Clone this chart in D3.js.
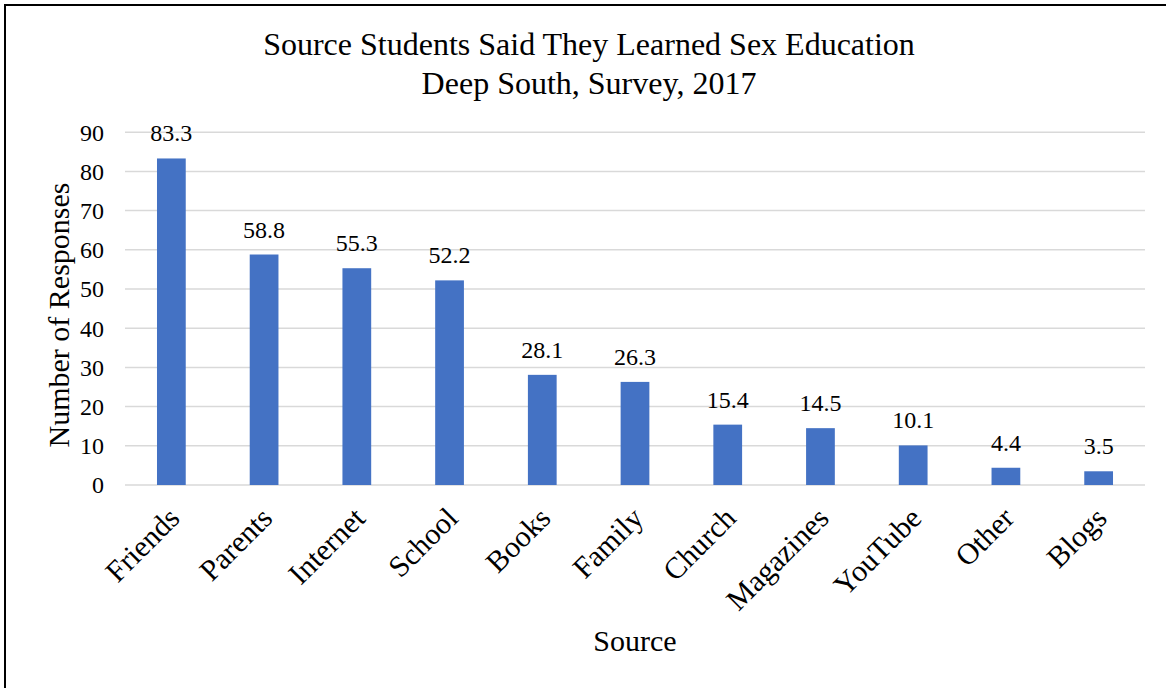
<!DOCTYPE html>
<html>
<head>
<meta charset="utf-8">
<script src="https://cdn.jsdelivr.net/npm/d3@7"></script>
<style>
  body { margin: 0; background: #fff; }
  text { font-family: "Liberation Serif", "Times New Roman", serif; fill: #000; }
</style>
</head>
<body>
<script>
// chart data
var categories = ["Friends", "Parents", "Internet", "School", "Books", "Family",
                  "Church", "Magazines", "YouTube", "Other", "Blogs"];
var responses = [83.3, 58.8, 55.3, 52.2, 28.1, 26.3, 15.4, 14.5, 10.1, 4.4, 3.5];
var yTicks = [0, 10, 20, 30, 40, 50, 60, 70, 80, 90];
var titleLines = ["Source Students Said They Learned Sex Education", "Deep South, Survey, 2017"];

var width = 1166,
    height = 688;

var svg = d3.select("body").append("svg")
    .attr("width", width)
    .attr("height", height);

// outer frame (only left and top visible in the picture)
svg.append("path")
    .attr("d", "M5,688 L5,5 L1166,5")
    .attr("fill", "none")
    .attr("stroke", "#000")
    .attr("stroke-width", 2);

var x = d3.scaleBand()
    .domain(categories)
    .range([125, 1145])
    .paddingInner(0.69)
    .paddingOuter(0.345);

var y = d3.scaleLinear()
    .domain([0, 90])
    .range([485, 132.2]);

// gridlines
svg.append("g")
    .selectAll("line")
    .data(yTicks)
    .enter().append("line")
    .attr("x1", 125)
    .attr("x2", 1145)
    .attr("y1", function(d) { return y(d); })
    .attr("y2", function(d) { return y(d); })
    .attr("stroke", "#d9d9d9")
    .attr("stroke-width", 1.5);

// y tick labels
svg.append("g")
    .selectAll("text")
    .data(yTicks)
    .enter().append("text")
    .attr("x", 104)
    .attr("y", function(d) { return y(d); })
    .attr("dy", "0.35em")
    .attr("text-anchor", "end")
    .attr("font-size", 24)
    .text(function(d) { return d; });

// bars
svg.append("g")
    .selectAll("rect")
    .data(responses)
    .enter().append("rect")
    .attr("x", function(d, i) { return x(categories[i]); })
    .attr("width", x.bandwidth())
    .attr("y", function(d) { return y(d); })
    .attr("height", function(d) { return y(0) - y(d); })
    .attr("fill", "#4472C4");

// value labels
svg.append("g")
    .selectAll("text")
    .data(responses)
    .enter().append("text")
    .attr("x", function(d, i) { return x(categories[i]) + x.bandwidth() / 2; })
    .attr("y", function(d) { return y(d) - 17; })
    .attr("text-anchor", "middle")
    .attr("font-size", 24)
    .text(function(d) { return d.toFixed(1); });

// category labels, rotated
svg.append("g")
    .selectAll("text")
    .data(categories)
    .enter().append("text")
    .attr("text-anchor", "end")
    .attr("font-size", 30)
    .attr("transform", function(d) {
        var cx = x(d) + x.bandwidth() / 2 + 10;
        return "translate(" + cx + ",520) rotate(-45)";
    })
    .text(function(d) { return d; });

// title
svg.append("g")
    .selectAll("text")
    .data(titleLines)
    .enter().append("text")
    .attr("x", 589)
    .attr("y", function(d, i) { return 55 + i * 39; })
    .attr("text-anchor", "middle")
    .attr("font-size", 32)
    .text(function(d) { return d; });

// axis titles
svg.append("text")
    .attr("transform", "translate(69,315) rotate(-90)")
    .attr("text-anchor", "middle")
    .attr("font-size", 30)
    .text("Number of Responses");

svg.append("text")
    .attr("x", 635)
    .attr("y", 651)
    .attr("text-anchor", "middle")
    .attr("font-size", 30)
    .text("Source");
</script>
</body>
</html>
